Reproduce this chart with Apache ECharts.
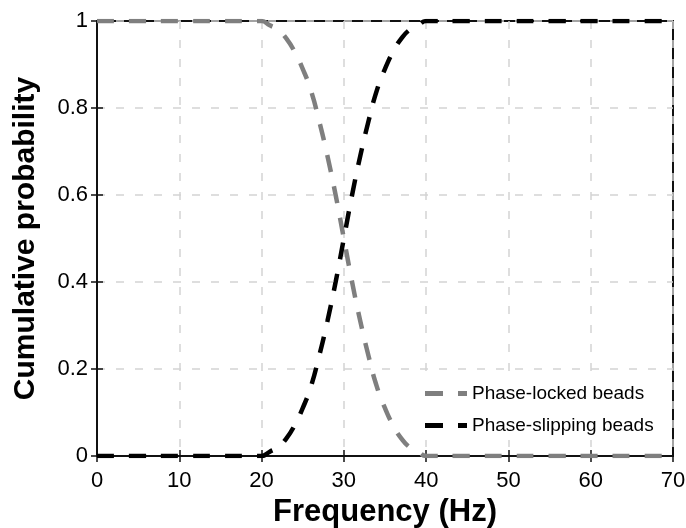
<!DOCTYPE html>
<html>
<head>
<meta charset="utf-8">
<script src="https://cdn.jsdelivr.net/npm/echarts@6/dist/echarts.min.js"></script>
<style>html,body{margin:0;padding:0;background:#fff}#c{width:686px;height:528px}</style>
</head>
<body>
<div id="c"></div>
<script>
// Frequency (Hz) sample points
var freq = [0, 5, 10, 15, 19, 20, 21, 22, 23, 24, 25, 26, 27, 28, 29, 30, 31, 32, 33, 34, 35, 36, 37, 38, 39, 40, 41, 45, 50, 55, 60, 65, 70];
// Cumulative probability, phase-locked beads (grey)
var lockedVals = [1, 1, 1, 1, 1, 1, 0.99, 0.98, 0.96, 0.93, 0.89, 0.84, 0.77, 0.69, 0.60, 0.50, 0.40, 0.31, 0.23, 0.16, 0.11, 0.07, 0.04, 0.02, 0.01, 0, 0, 0, 0, 0, 0, 0, 0];
// Cumulative probability, phase-slipping beads (black)
var slippingVals = [0, 0, 0, 0, 0, 0, 0.01, 0.02, 0.04, 0.07, 0.11, 0.16, 0.23, 0.31, 0.40, 0.50, 0.60, 0.69, 0.77, 0.84, 0.89, 0.93, 0.96, 0.98, 0.99, 1, 1, 1, 1, 1, 1, 1, 1];
var seriesNames = ['Phase-locked beads', 'Phase-slipping beads'];
var xTitle = 'Frequency (Hz)';
var yTitle = 'Cumulative probability';

function pairs(xs, ys) { return xs.map(function (x, i) { return [x, ys[i]]; }); }

var FONT = '"Liberation Sans", Arial, sans-serif';
var GRAY = '#7f7f7f';
var LEGEND_ICON = 'path://M0,0H18V5H0Z M33,0H42V5H33Z';
var gridLine = { show: true, lineStyle: { color: '#d4d4d4', width: 1.5, type: [8, 11] } };
var tick = { show: true, inside: true, length: 6, lineStyle: { color: '#111', width: 1.5 } };

var chart = echarts.init(document.getElementById('c'));
chart.setOption({
  animation: false,
  backgroundColor: '#fff',
  grid: { left: 97, right: 13, top: 21, bottom: 72, containLabel: false, outerBoundsMode: 'none',
    show: true, borderColor: '#111', borderWidth: 2, backgroundColor: 'transparent' },
  xAxis: [{
    type: 'value', min: 0, max: 70, interval: 10,
    name: xTitle, nameLocation: 'middle', nameGap: 36,
    nameTextStyle: { fontFamily: FONT, fontWeight: 'bold', fontSize: 31, color: '#000' },
    axisLine: { show: true, lineStyle: { color: '#111', width: 2 } },
    axisTick: tick,
    axisLabel: { fontFamily: FONT, fontSize: 22, color: '#000', margin: 14 },
    splitLine: gridLine
  }, {
    type: 'value', min: 0, max: 70, interval: 10, position: 'top',
    axisLine: { show: false }, axisLabel: { show: false }, splitLine: { show: false },
    axisTick: tick
  }],
  yAxis: [{
    type: 'value', min: 0, max: 1, interval: 0.2,
    name: yTitle, nameLocation: 'middle', nameGap: 56,
    nameTextStyle: { fontFamily: FONT, fontWeight: 'bold', fontSize: 30, color: '#000' },
    axisLine: { show: true, lineStyle: { color: '#111', width: 2 } },
    axisTick: tick,
    axisLabel: { fontFamily: FONT, fontSize: 22, color: '#000', margin: 9 },
    splitLine: gridLine
  }, {
    type: 'value', min: 0, max: 1, interval: 0.2, position: 'right',
    axisLine: { show: false }, axisLabel: { show: false }, splitLine: { show: false },
    axisTick: tick
  }],
  legend: {
    orient: 'vertical', left: 420, top: 379,
    backgroundColor: '#fff', padding: 5,
    itemGap: 13, itemWidth: 42, itemHeight: 14, symbolKeepAspect: true,
    textStyle: { fontFamily: FONT, fontSize: 19, color: '#000' },
    data: [{ name: seriesNames[0], icon: LEGEND_ICON }, { name: seriesNames[1], icon: LEGEND_ICON }]
  },
  series: [{
    name: seriesNames[0], type: 'line', smooth: 0.5, showSymbol: false, symbol: 'none',
    data: pairs(freq, lockedVals), z: 5,
    lineStyle: { color: GRAY, width: 4.5, type: [17, 15] }, itemStyle: { color: GRAY }
  }, {
    name: seriesNames[1], type: 'line', smooth: 0.5, showSymbol: false, symbol: 'none',
    data: pairs(freq, slippingVals), z: 6,
    lineStyle: { color: '#000', width: 4.5, type: [17, 15] }, itemStyle: { color: '#000' }
  }]
});
</script>
</body>
</html>
